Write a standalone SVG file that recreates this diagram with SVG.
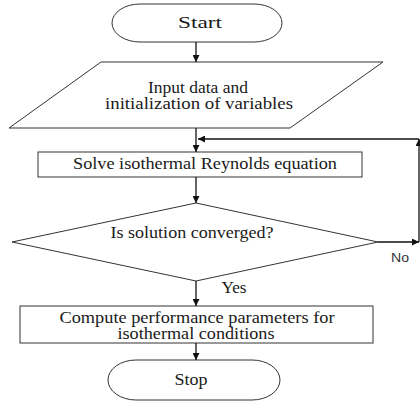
<svg xmlns="http://www.w3.org/2000/svg" width="420" height="403" viewBox="0 0 420 403">
<style>
.s{fill:#fff;stroke:#333;stroke-width:1}
.t{font-family:"Liberation Serif","Times New Roman",serif;font-size:16px;fill:#1a1a1a;text-anchor:middle}
.c{stroke:#111;stroke-width:1.3;fill:none;marker-end:url(#ah)}
</style>
<defs>
<marker id="ah" viewBox="0 0 10 10" refX="10" refY="5" markerWidth="7" markerHeight="7" markerUnits="userSpaceOnUse" orient="auto">
<path d="M0,0 L10,5 L0,10 z" fill="#111"/>
</marker>
</defs>
<rect width="420" height="403" fill="#fff"/>
<g id="start">
<rect class="s" x="112" y="4" width="170" height="38" rx="28" ry="19"/>
<text class="t" x="200" y="28" textLength="44" lengthAdjust="spacingAndGlyphs">Start</text>
</g>
<g id="input">
<polygon class="s" points="101,62 383,62 290,128 9,128"/>
<text class="t" x="198" y="93" textLength="100" lengthAdjust="spacingAndGlyphs">Input data and</text>
<text class="t" x="199" y="109" textLength="188" lengthAdjust="spacingAndGlyphs">initialization of variables</text>
</g>
<g id="solve">
<rect class="s" x="38" y="152" width="324" height="25"/>
<text class="t" x="205" y="169" textLength="264" lengthAdjust="spacingAndGlyphs">Solve isothermal Reynolds equation</text>
</g>
<g id="decision">
<polygon class="s" points="196,203 378,242 196,281 12,242"/>
<text class="t" x="192" y="238" textLength="163" lengthAdjust="spacingAndGlyphs">Is solution converged?</text>
</g>
<g id="compute">
<rect class="s" x="20" y="306" width="353" height="37"/>
<text class="t" x="197" y="323" textLength="275" lengthAdjust="spacingAndGlyphs">Compute performance parameters for</text>
<text class="t" x="196" y="339" textLength="157" lengthAdjust="spacingAndGlyphs">isothermal conditions</text>
</g>
<g id="stop">
<rect class="s" x="108" y="360" width="172" height="40" rx="28" ry="20"/>
<text class="t" x="191" y="385" textLength="33" lengthAdjust="spacingAndGlyphs">Stop</text>
</g>
<g id="connectors">
<line class="c" x1="196" y1="42" x2="196" y2="62"/>
<line class="c" x1="196" y1="128" x2="196" y2="152"/>
<line class="c" x1="196" y1="177" x2="196" y2="203"/>
<line class="c" x1="196" y1="281" x2="196" y2="306"/>
<line class="c" x1="196" y1="343" x2="196" y2="360"/>
<line class="c" x1="378" y1="242" x2="419" y2="242"/>
<line class="c" x1="419" y1="242" x2="419" y2="139"/>
<line class="c" x1="419" y1="139" x2="198" y2="139"/>
<text x="400" y="262" text-anchor="middle" font-family="Liberation Sans, Arial, sans-serif" font-size="12" fill="#333" textLength="18" lengthAdjust="spacingAndGlyphs">No</text>
<text class="t" x="234" y="293" textLength="25" lengthAdjust="spacingAndGlyphs" font-size="14">Yes</text>
</g>
</svg>
